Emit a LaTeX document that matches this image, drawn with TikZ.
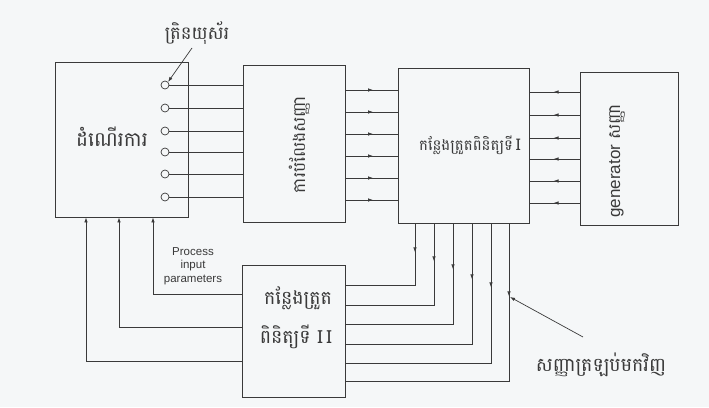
\documentclass[tikz,border=0pt]{standalone}
\usepackage{fontspec}
\setmainfont{Liberation Sans}
\newfontfamily\khmer[Script=Khmer]{Battambang}
\usetikzlibrary{arrows.meta,decorations.markings}
\definecolor{ink}{HTML}{3A3A3A}
\definecolor{paper}{HTML}{F5F7F8}
\begin{document}
\begin{tikzpicture}[x=1pt,y=-1pt,
  box/.style={draw=ink,line width=0.8pt,inner sep=0pt,fill=paper},
  port/.style={circle,draw=ink,line width=0.7pt,minimum size=8pt,inner sep=0pt,fill=paper},
  wire/.style={draw=ink,line width=0.7pt},
  tip/.style={-{Latex[length=5pt,width=3.5pt]}},
  marr/.style={postaction={decorate},decoration={markings,mark=at position #1 with {\arrow{Latex[length=5pt,width=3.5pt]}}}},
  km/.style={font=\khmer\fontsize{#1}{#1}\selectfont,text=ink,inner sep=0pt},
  km/.default=13,
  lat/.style={font=\fontsize{#1}{#1}\selectfont,text=ink,inner sep=0pt}
]
\fill[paper] (0,0) rectangle (709,407);
\useasboundingbox (0,0) rectangle (709,407);

% boxes
\node[box,minimum width=133pt,minimum height=155pt] (b1) at (121.5,139.5) {};
\node[box,minimum width=102pt,minimum height=157pt] (b2) at (294,143.5) {};
\node[box,minimum width=131pt,minimum height=155pt] (b3) at (463.5,145.5) {};
\node[box,minimum width=98pt,minimum height=153pt] (b4) at (629,148.5) {};
\node[box,minimum width=103pt,minimum height=132pt] (b5) at (293.5,331) {};

% box texts
\node[km=20] (t1) at (112,137) {ដំណើរការ};
\node[km=17,rotate=90] (t2) at (300,145) {ការបំលែងសញ្ញា};
\node[km=15] (t3) at (470,145) {កន្លែងត្រួតពិនិត្យទី\,{\fontsize{16}{16}\selectfont I}};
\node[lat=17,rotate=90] (t4) at (617,161) {generator {\khmer សញ្ញា}};
\node[km=19] (t5a) at (298,298) {កន្លែងត្រួត};
\node[km=19] (t5b) at (296,337) {ពិនិត្យទី {\fontsize{18}{18}\selectfont I\,I}};

% ports and their lines
\foreach \y [count=\i] in {85,108,131,152,174,197}{
  \node[port] (p\i) at (165,\y) {};
  \draw[wire] (p\i.east) -- (p\i.east -| b2.west);
}

% box2 -> box3
\foreach \y in {90,112,134,156,178,200}{
  \draw[wire,marr=0.53] (b2.east |- 0,\y) -- (b3.west |- 0,\y);
}
% generator -> box3
\foreach \y in {92,115,138,159,181,203}{
  \draw[wire,marr=0.52] (b4.west |- 0,\y) -- (b3.east |- 0,\y);
}

% box5 -> box1 (process input parameters)
\draw[wire,tip] (b5.west |- 0,294) -| (b1.south -| 153,0);
\draw[wire,tip] (b5.west |- 0,327) -| (b1.south -| 119,0);
\draw[wire,tip] (b5.west |- 0,361) -| (b1.south -| 86,0);
\node[lat=11.5,align=center] (pip) at (193,266) {Process\\[2pt]input\\[2pt]parameters};

% box3 -> box5 feedback
\draw[wire,marr=29pt] (b3.south -| 415,0) |- (b5.east |- 0,285);
\draw[wire,marr=38pt] (b3.south -| 434,0) |- (b5.east |- 0,305);
\draw[wire,marr=46pt] (b3.south -| 453,0) |- (b5.east |- 0,324);
\draw[wire,marr=56pt] (b3.south -| 472,0) |- (b5.east |- 0,344);
\draw[wire,marr=64pt] (b3.south -| 491,0) |- (b5.east |- 0,363);
\draw[wire,marr=73pt] (b3.south -| 509,0) |- (b5.east |- 0,381);
\coordinate (fb) at (510,297);

% annotation labels
\node[km=18] (lt) at (197,33) {ត្រិនយុស័រ};
\coordinate (ltp) at (192,48);
\draw[wire,tip] (ltp) -- (p1.north east);
\node[km=19] (lf) at (601,365) {សញ្ញាត្រឡប់មកវិញ};
\coordinate (lfp) at (583,337);
\draw[wire,tip] (lfp) -- (fb);
\end{tikzpicture}
\end{document}
